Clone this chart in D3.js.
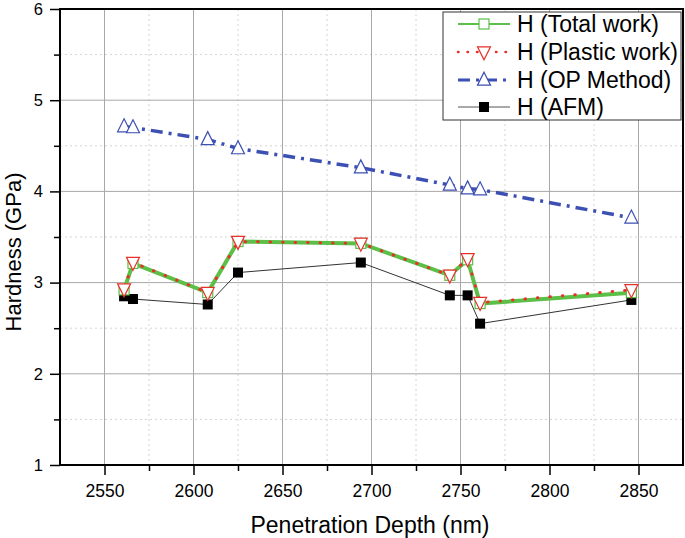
<!DOCTYPE html>
<html><head><meta charset="utf-8">
<script src="https://cdn.jsdelivr.net/npm/d3@7"></script>
<style>body{margin:0;background:#fff}svg{display:block}text{font-family:"Liberation Sans",Arial,sans-serif}</style>
</head><body>
<svg id="c" width="685" height="538"></svg>
<script>
const depth = [2561, 2566, 2608, 2625, 2694, 2744, 2754, 2761, 2846];
const totalWork = [2.92, 3.21, 2.89, 3.45, 3.43, 3.08, 3.25, 2.77, 2.89];
const plasticWork = [2.93, 3.22, 2.89, 3.45, 3.43, 3.08, 3.26, 2.78, 2.92];
const opMethod = [4.71, 4.70, 4.57, 4.47, 4.26, 4.07, 4.03, 4.02, 3.71];
const afm = [2.85, 2.82, 2.76, 3.11, 3.22, 2.86, 2.86, 2.55, 2.81];
const xTicks = [2550, 2600, 2650, 2700, 2750, 2800, 2850];
const yTicks = [1, 2, 3, 4, 5, 6];
const legendLabels = ["H (Total work)", "H (Plastic work)", "H (OP Method)", "H (AFM)"];

const svg = d3.select("#c");
const L = 60, R = 683, T = 9, B = 465;
const x = d3.scaleLinear().domain([2525, 2875]).range([L, R]);
const y = d3.scaleLinear().domain([1, 6]).range([B, T]);

const xMinor = d3.range(2575, 2875, 50);
const yMinor = d3.range(1.5, 6, 1);

// grid
const g = svg.append("g");
g.selectAll(".gx").data(xMinor).join("line").attr("x1", d=>x(d)).attr("x2", d=>x(d)).attr("y1", T).attr("y2", B)
  .attr("stroke", "#d4d4d4").attr("stroke-dasharray", "2 3");
g.selectAll(".gy").data(yMinor).join("line").attr("y1", d=>y(d)).attr("y2", d=>y(d)).attr("x1", L).attr("x2", R)
  .attr("stroke", "#d4d4d4").attr("stroke-dasharray", "2 3");
g.selectAll(".GX").data(xTicks).join("line").attr("x1", d=>x(d)).attr("x2", d=>x(d)).attr("y1", T).attr("y2", B)
  .attr("stroke", "#a8a8a8").attr("stroke-width", 1);
g.selectAll(".GY").data(yTicks.slice(1, -1)).join("line").attr("y1", d=>y(d)).attr("y2", d=>y(d)).attr("x1", L).attr("x2", R)
  .attr("stroke", "#a8a8a8").attr("stroke-width", 1);

// axes
const xa = svg.append("g").attr("transform", `translate(0,${B})`)
  .call(d3.axisBottom(x).tickValues(xTicks).tickSize(10).tickPadding(0).tickFormat(d3.format("d")));
xa.selectAll("text").attr("dy", null).attr("y", 32).attr("font-size", 17.5);
const xm = svg.append("g").attr("transform", `translate(0,${B})`)
  .call(d3.axisBottom(x).tickValues(xMinor).tickSize(6).tickFormat(""));
const ya = svg.append("g").attr("transform", `translate(${L},0)`)
  .call(d3.axisLeft(y).tickValues(yTicks).tickSize(10).tickPadding(7).tickFormat(d3.format("d")));
ya.selectAll("text").attr("font-size", 16.5);
const ym = svg.append("g").attr("transform", `translate(${L},0)`)
  .call(d3.axisLeft(y).tickValues(yMinor).tickSize(6).tickFormat(""));
[xa, xm, ya, ym].forEach(a => {
  a.select(".domain").remove();
  a.selectAll(".tick line").attr("stroke", "#000").attr("stroke-width", 1.5);
  a.selectAll("text").attr("fill", "#000").attr("font-family", "Liberation Sans, Arial, sans-serif");
});

// frame
svg.append("rect").attr("x", L).attr("y", T).attr("width", R - L).attr("height", B - T)
  .attr("fill", "none").attr("stroke", "#000").attr("stroke-width", 2);

// titles
svg.append("text").attr("x", 370).attr("y", 533).attr("text-anchor", "middle")
  .attr("font-size", 23).text("Penetration Depth (nm)");
svg.append("text").attr("transform", `translate(21,252) rotate(-90)`).attr("text-anchor", "middle")
  .attr("font-size", 22).text("Hardness (GPa)");

const line = vals => d3.line().x((d, i) => x(depth[i])).y(d => y(d))(vals);
const pts = vals => vals.map((v, i) => [x(depth[i]), y(v)]);

const C_GREEN = "#5cbf48", C_RED = "#e8302a", C_BLUE = "#3c4fb3";
const triUp = (s) => `M0,${-s*0.6}L${s/2},${s*0.4}L${-s/2},${s*0.4}Z`;
const triDown = (s) => `M0,${s*0.6}L${s/2},${-s*0.4}L${-s/2},${-s*0.4}Z`;

// OP Method
svg.append("path").attr("d", line(opMethod)).attr("fill", "none").attr("stroke", C_BLUE)
  .attr("stroke-width", 3.5).attr("stroke-dasharray", "12 6 3 6");
svg.selectAll(".op").data(pts(opMethod)).join("path").attr("transform", d => `translate(${d[0]},${d[1]})`)
  .attr("d", triUp(13)).attr("fill", "#fff").attr("stroke", C_BLUE).attr("stroke-width", 1.2);

// AFM
svg.append("path").attr("d", line(afm)).attr("fill", "none").attr("stroke", "#333").attr("stroke-width", 1);
svg.selectAll(".afm").data(pts(afm)).join("rect").attr("x", d => d[0] - 5).attr("y", d => d[1] - 5)
  .attr("width", 10).attr("height", 10).attr("fill", "#000");

// Total work
svg.append("path").attr("d", line(totalWork)).attr("fill", "none").attr("stroke", C_GREEN).attr("stroke-width", 4);
svg.selectAll(".tw").data(pts(totalWork)).join("rect").attr("x", d => d[0] - 5).attr("y", d => d[1] - 5)
  .attr("width", 10).attr("height", 10).attr("fill", "#fff").attr("stroke", C_GREEN).attr("stroke-width", 1.2);

// Plastic work
svg.append("path").attr("d", line(plasticWork)).attr("fill", "none").attr("stroke", C_RED)
  .attr("stroke-width", 3).attr("stroke-dasharray", "0.5 12").attr("stroke-linecap", "round");
svg.selectAll(".pw").data(pts(plasticWork)).join("path").attr("transform", d => `translate(${d[0]},${d[1]})`)
  .attr("d", triDown(13)).attr("fill", "#fff").attr("stroke", C_RED).attr("stroke-width", 1.2);

// legend
const lg = svg.append("g");
lg.append("rect").attr("x", 443).attr("y", 12).attr("width", 238).attr("height", 108)
  .attr("fill", "#fff").attr("stroke", "#333").attr("stroke-width", 1);
const rows = [24, 52, 80, 107];
const x1 = 458, x2 = 510, xm0 = 484;
// total
lg.append("line").attr("x1", x1).attr("x2", x2).attr("y1", rows[0]).attr("y2", rows[0]).attr("stroke", C_GREEN).attr("stroke-width", 2);
lg.append("rect").attr("x", xm0 - 5).attr("y", rows[0] - 5).attr("width", 10).attr("height", 10).attr("fill", "#fff").attr("stroke", C_GREEN).attr("stroke-width", 1.2);
// plastic
lg.append("line").attr("x1", x1).attr("x2", x2).attr("y1", rows[1]).attr("y2", rows[1]).attr("stroke", C_RED).attr("stroke-width", 2.5)
  .attr("stroke-dasharray", "0.5 9").attr("stroke-linecap", "round");
lg.append("path").attr("transform", `translate(${xm0},${rows[1]})`).attr("d", triDown(13)).attr("fill", "#fff").attr("stroke", C_RED).attr("stroke-width", 1.2);
// op
lg.append("line").attr("x1", x1).attr("x2", x2).attr("y1", rows[2]).attr("y2", rows[2]).attr("stroke", C_BLUE).attr("stroke-width", 3)
  .attr("stroke-dasharray", "12 6 3 6");
lg.append("path").attr("transform", `translate(${xm0},${rows[2]})`).attr("d", triUp(13)).attr("fill", "#fff").attr("stroke", C_BLUE).attr("stroke-width", 1.2);
// afm
lg.append("line").attr("x1", x1).attr("x2", x2).attr("y1", rows[3]).attr("y2", rows[3]).attr("stroke", "#555").attr("stroke-width", 1);
lg.append("rect").attr("x", xm0 - 5).attr("y", rows[3] - 5).attr("width", 10).attr("height", 10).attr("fill", "#000");
lg.selectAll(".lt").data(legendLabels).join("text").attr("x", 517).attr("y", (d, i) => rows[i] + 8)
  .attr("font-size", 23).attr("fill", "#000").text(d => d);
</script>
</body></html>
